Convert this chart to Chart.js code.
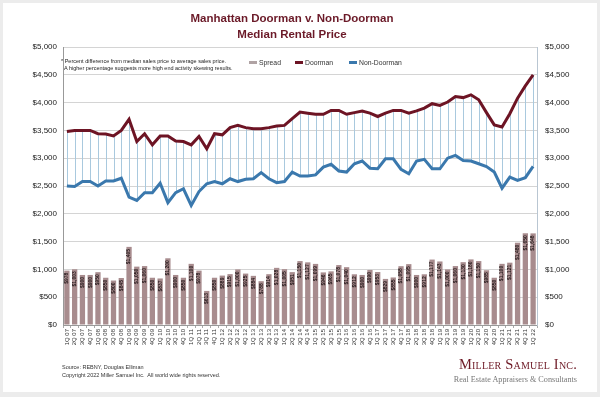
<!DOCTYPE html>
<html>
<head>
<meta charset="utf-8">
<script src="https://cdn.jsdelivr.net/npm/chart.js@4"></script>
<style>
body{margin:0;background:#ececec;font-family:"Liberation Sans",Arial,sans-serif;width:600px;height:397px;overflow:hidden;position:relative}
#card{position:absolute;left:3px;top:3px;width:594px;height:389px;background:#fff}
#c{position:absolute;left:0;top:0}
.t{position:absolute;white-space:nowrap}
#title{left:0;width:584px;top:10px;text-align:center;color:#6b1a28;font-weight:bold;font-size:11.5px;line-height:16px}
#note{left:61px;top:58px;font-size:5.5px;line-height:7px;color:#222}
.lg{top:59px;font-size:6.8px;color:#333}
.sw{display:inline-block;width:8px;height:3px;vertical-align:middle;margin-right:2px;position:relative;top:-1px}
#src{left:62px;top:363px;font-size:5.5px;line-height:8px;color:#333}
#logo{right:23px;top:356px;text-align:right;font-family:"Liberation Serif","Times New Roman",serif}
#logo .a{font-variant:small-caps;font-size:14.5px;color:#6e1a26;letter-spacing:0.2px}
#logo .b{font-size:8.2px;color:#777;margin-top:2px}
</style>
</head>
<body>
<div id="card"></div>
<canvas id="c" width="600" height="397"></canvas>
<div class="t" id="title">Manhattan Doorman v. Non-Doorman<br>Median Rental Price</div>
<div class="t" id="note">* Percent difference from median sales price to average sales price.<br>&nbsp;&nbsp;A higher percentage suggests more high end activity skewing results.</div>
<div class="t lg" style="left:249px"><span class="sw" style="background:#b0a3a4"></span>Spread</div>
<div class="t lg" style="left:295px"><span class="sw" style="background:#6d1424"></span>Doorman</div>
<div class="t lg" style="left:349px"><span class="sw" style="background:#3a78ad"></span>Non-Doorman</div>
<div class="t" id="src">Source: REBNY, Douglas Elliman<br>Copyright 2022 Miller Samuel Inc.&nbsp; All world wide rights reserved.</div>
<div class="t" id="logo"><div class="a">Miller Samuel Inc.</div><div class="b">Real Estate Appraisers &amp; Consultants</div></div>
<script>
const quarters = ["1Q 07","2Q 07","3Q 07","4Q 07","1Q 08","2Q 08","3Q 08","4Q 08","1Q 09","2Q 09","3Q 09","4Q 09",
  "1Q 10","2Q 10","3Q 10","4Q 10","1Q 11","2Q 11","3Q 11","4Q 11","1Q 12","2Q 12","3Q 12","4Q 12",
  "1Q 13","2Q 13","3Q 13","4Q 13","1Q 14","2Q 14","3Q 14","4Q 14","1Q 15","2Q 15","3Q 15","4Q 15",
  "1Q 16","2Q 16","3Q 16","4Q 16","1Q 17","2Q 17","3Q 17","4Q 17","1Q 18","2Q 18","3Q 18","4Q 18",
  "1Q 19","2Q 19","3Q 19","4Q 19","1Q 20","2Q 20","3Q 20","4Q 20","1Q 21","2Q 21","3Q 21","4Q 21","1Q 22"]

const doorman = [3480,3500,3500,3500,3440,3435,3400,3500,3700,3300,
  3440,3240,3400,3400,3310,3300,3240,3390,3170,3440,
  3420,3550,3590,3550,3530,3530,3550,3580,3590,3710,
  3830,3810,3790,3790,3860,3860,3790,3820,3850,3810,
  3750,3810,3860,3860,3810,3850,3900,3980,3950,4010,
  4110,4090,4140,4050,3820,3600,3560,3800,4080,4300,4500]

const nonDoorman = [2500,2490,2580,2580,2500,2590,2590,2640,2300,2240,
  2380,2380,2550,2200,2380,2450,2150,2400,2540,2580,
  2540,2630,2580,2620,2630,2740,2630,2560,2580,2750,
  2680,2680,2700,2840,2890,2770,2750,2900,2950,2820,
  2810,2990,2990,2800,2720,2950,2980,2810,2810,3000,
  3050,2960,2950,2900,2850,2750,2460,2660,2600,2650,2852]

const spread = [978,1003,900,900,950,850,800,845,1405,1050,
  1060,850,837,1200,900,850,1100,978,613,850,
  889,915,1000,925,884,788,914,1028,1005,951,
  1150,1127,1099,946,965,1078,1040,912,900,990,
  953,829,855,1058,1095,900,912,1177,1143,1000,
  1060,1130,1180,1150,985,850,1100,1121,1480,1650,1648]

const yTicks = [0,500,1000,1500,2000,2500,3000,3500,4000,4500,5000]

const fontFam = '"Liberation Sans", Arial, sans-serif'

// high-low lines between the two series, and labels inside the bars
const extras = {
  id: 'extras',
  beforeDatasetsDraw(chart){
    const ctx = chart.ctx, x = chart.scales.x, y = chart.scales.y
    ctx.save()
    ctx.strokeStyle = '#a9c9de'
    ctx.lineWidth = 1
    for(let i=0;i<quarters.length;i++){
      const px = Math.round(x.getPixelForValue(i)) + 0.5
      ctx.beginPath()
      ctx.moveTo(px, y.getPixelForValue(doorman[i]))
      ctx.lineTo(px, y.getPixelForValue(nonDoorman[i]))
      ctx.stroke()
    }
    ctx.restore()
  },
  afterDatasetsDraw(chart){
    const ctx = chart.ctx, x = chart.scales.x, y = chart.scales.y
    ctx.save()
    ctx.fillStyle = '#24181a'
    ctx.font = 'bold 5px ' + fontFam
    ctx.textAlign = 'right'
    ctx.textBaseline = 'middle'
    for(let i=0;i<spread.length;i++){
      ctx.save()
      ctx.translate(x.getPixelForValue(i), y.getPixelForValue(spread[i]) + 2)
      ctx.rotate(-Math.PI/2)
      ctx.fillText('$' + spread[i].toLocaleString('en-US'), 0, 0)
      ctx.restore()
    }
    ctx.restore()
  }
}

new Chart(document.getElementById('c'), {
  type: 'bar',
  data: {
    labels: quarters,
    datasets: [
      { type:'line', label:'Doorman', data:doorman, borderColor:'#6d1424', borderWidth:3, pointRadius:0, tension:0, order:1 },
      { type:'line', label:'Non-Doorman', data:nonDoorman, borderColor:'#3a78ad', borderWidth:3, pointRadius:0, tension:0, order:2 },
      { label:'Spread', data:spread, backgroundColor:'#a88c8e', barPercentage:0.68, categoryPercentage:1, order:3 }
    ]
  },
  plugins: [extras],
  options: {
    responsive: false,
    animation: false,
    layout: { padding: { top: 47, left: 0, right: 0, bottom: 0 } },
    plugins: { legend: { display:false }, tooltip: { enabled:false } },
    scales: {
      x: {
        grid: { display:true, drawOnChartArea:false, tickLength:3, color:'#aaa', offset:true },
        border: { color:'#999' },
        ticks: { autoSkip:false, minRotation:90, maxRotation:90, padding:1, color:'#333', font:{ size:6, family:fontFam } },
        afterFit(s){ s.height = 72 }
      },
      y: {
        position:'left', min:0, max:5000,
        afterBuildTicks(s){ s.ticks = yTicks.map(v => ({ value:v })) },
        grid: { color:'#d4d4d4', drawTicks:false },
        border: { color:'#999' },
        ticks: { padding:6, color:'#222', font:{ size:8, family:fontFam }, callback:v => '$' + v.toLocaleString('en-US') },
        afterFit(s){ s.width = 63 }
      },
      y2: {
        position:'right', min:0, max:5000,
        afterBuildTicks(s){ s.ticks = yTicks.map(v => ({ value:v })) },
        grid: { drawOnChartArea:false, drawTicks:false },
        border: { color:'#b9c6d2' },
        ticks: { padding:8, color:'#222', font:{ size:8, family:fontFam }, callback:v => '$' + v.toLocaleString('en-US') },
        afterFit(s){ s.width = 63 }
      }
    }
  }
})
</script>
</body>
</html>
